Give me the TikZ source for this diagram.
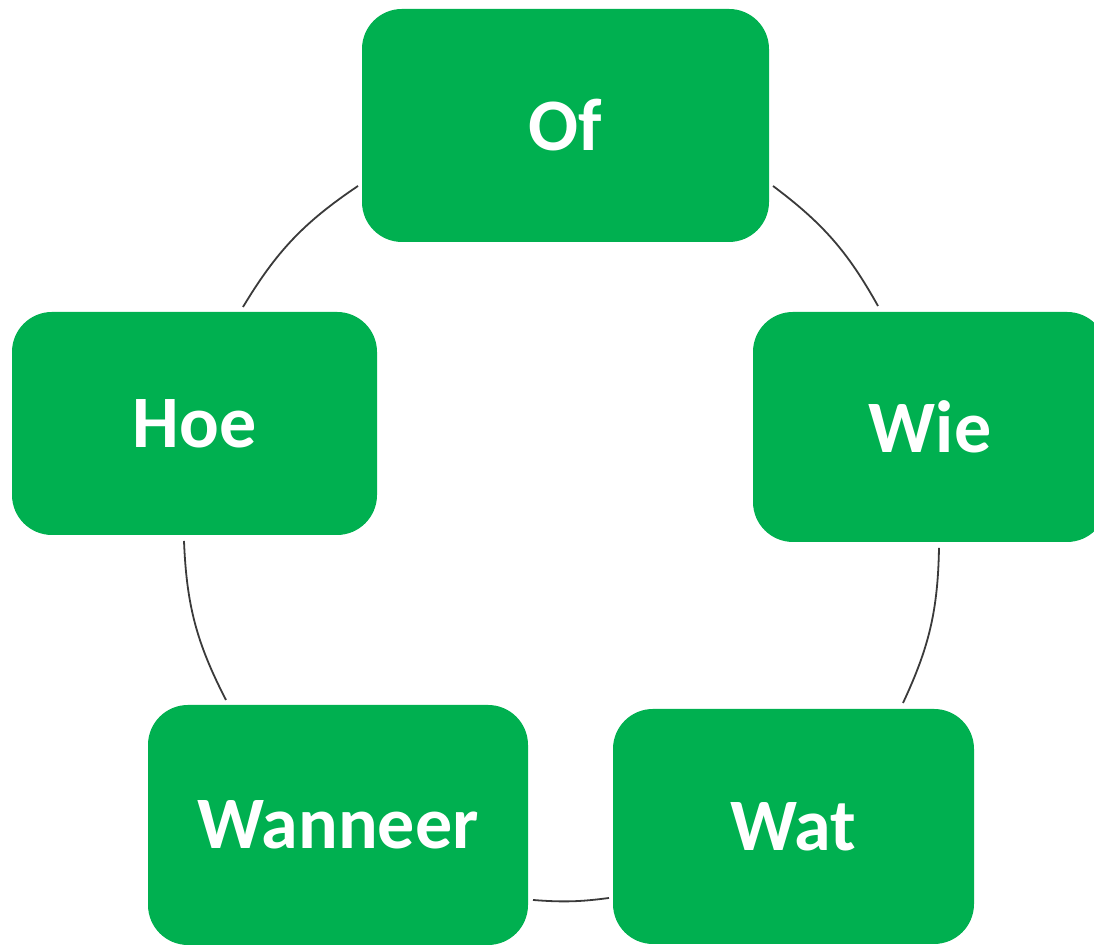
\documentclass[tikz,border=0pt]{standalone}
\usepackage{fontspec}
\setmainfont{Carlito}
\definecolor{boxgreen}{HTML}{00B050}
\definecolor{linegray}{HTML}{3A3A3A}

\begin{document}
\begin{tikzpicture}[x=0.5pt, y=0.5pt,
  vraag/.style={fill=boxgreen, rounded corners=20pt, text=white,
    font=\fontsize{37}{44}\selectfont\bfseries, inner sep=0pt},
  kring/.style={draw=linegray, line width=0.9pt}]
\useasboundingbox (0, 0) rectangle (1094, 945);
\clip (0, 0) rectangle (1094, 945);
% vakken
\node[vraag, minimum width=203.5pt, minimum height=116.5pt] (of) at (565.5, 819.5) {Of};
\node[vraag, minimum width=177pt, minimum height=115pt] (wie) at (930, 518) {Wie};
\node[vraag, minimum width=180.5pt, minimum height=117.5pt] (wat) at (793.5, 118.5) {Wat};
\node[vraag, minimum width=190pt, minimum height=120pt] (wanneer) at (338, 120) {Wanneer};
\node[vraag, minimum width=182.5pt, minimum height=111.5pt] (hoe) at (194.5, 521.5) {Hoe};
% eindpunten van de bogen
\coordinate (of-uit) at (773, 759);
\coordinate (wie-in) at (878, 639);
\coordinate (wie-uit) at (939, 397);
\coordinate (wat-in) at (903, 242);
\coordinate (wat-uit) at (609, 47);
\coordinate (wanneer-in) at (533, 45);
\coordinate (wanneer-uit) at (226, 245);
\coordinate (hoe-in) at (184, 404);
\coordinate (hoe-uit) at (243, 638);
\coordinate (of-in) at (358, 759);
% bogen
\draw[kring] (of-uit) to[bend left=12] (wie-in);
\draw[kring] (wie-uit) to[bend left=12] (wat-in);
\draw[kring] (wat-uit) to[bend left=6] (wanneer-in);
\draw[kring] (wanneer-uit) to[bend left=12.5] (hoe-in);
\draw[kring] (hoe-uit) to[bend left=12.5] (of-in);
\end{tikzpicture}
\end{document}
